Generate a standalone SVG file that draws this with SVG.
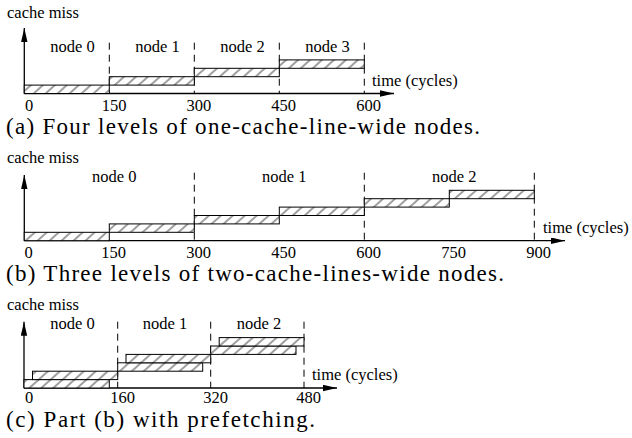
<svg xmlns="http://www.w3.org/2000/svg" width="632" height="438" viewBox="0 0 632 438" font-family="'Liberation Serif', 'DejaVu Serif', serif">
  <style>
    .bar { fill: url(#hatch); stroke: #000; stroke-width: 1; }
    .dash { stroke: #000; stroke-width: 1; stroke-dasharray: 7 5; fill: none; }
    .axis { stroke: #000; stroke-width: 1.3; fill: none; marker-end: url(#arrow); }
    .lbl { font-family: 'Liberation Serif', 'DejaVu Serif', serif; font-size: 16.5px; fill: #000; }
    .mid { text-anchor: middle; }
    .cap { font-family: 'Liberation Serif', 'DejaVu Serif', serif; font-size: 23px; fill: #000; }
  </style>
  <defs>
    <!-- diagonal hatch used by every cache-miss bar -->
    <pattern id="hatch" patternUnits="userSpaceOnUse" width="10" height="8" patternTransform="rotate(-42)">
      <rect width="10" height="8" fill="#fff"/>
      <line x1="0" y1="4" x2="10" y2="4" stroke="#000" stroke-width="0.75"/>
    </pattern>
    <!-- slim filled arrowhead for the axes -->
    <marker id="arrow" markerUnits="userSpaceOnUse" markerWidth="15" markerHeight="7" refX="14" refY="3.2" orient="auto">
      <path d="M0,0 L14,3.2 L0,6.4 Z" fill="#000"/>
    </marker>
  </defs>
  <rect width="632" height="438" fill="#fff"/>

  <!-- (a) four one-line nodes -->
  <g id="panel-a">
    <g id="a-connectors">
      <line class="axis" x1="24.3" y1="93.5" x2="24.3" y2="28"/>
      <line class="axis" x1="24.3" y1="93.5" x2="394" y2="93.5"/>
      <line class="dash" x1="109.3" y1="42.7" x2="109.3" y2="93.5"/>
      <line class="dash" x1="194.3" y1="42.7" x2="194.3" y2="93.5"/>
      <line class="dash" x1="279.3" y1="42.7" x2="279.3" y2="93.5"/>
      <line class="dash" x1="364.3" y1="42.7" x2="364.3" y2="93.5"/>
    </g>
    <g id="a-node0"><rect class="bar" x="24.3" y="85.1" width="85" height="8.4"/><text class="lbl mid" x="72.5" y="51.7">node 0</text></g>
    <g id="a-node1"><rect class="bar" x="109.3" y="76.7" width="85" height="8.4"/><text class="lbl mid" x="157.5" y="51.7">node 1</text></g>
    <g id="a-node2"><rect class="bar" x="194.3" y="68.3" width="85" height="8.4"/><text class="lbl mid" x="242.5" y="51.7">node 2</text></g>
    <g id="a-node3"><rect class="bar" x="279.3" y="59.9" width="85" height="8.4"/><text class="lbl mid" x="327.5" y="51.7">node 3</text></g>
    <text class="lbl" x="7" y="17.7">cache miss</text>
    <text class="lbl" x="372" y="85.5">time (cycles)</text>
    <g class="lbl mid">
      <text x="29" y="111">0</text>
      <text x="114" y="111">150</text>
      <text x="198.8" y="111">300</text>
      <text x="283.5" y="111">450</text>
      <text x="368.5" y="111">600</text>
    </g>
    <text class="cap" x="6" y="134" textLength="474" lengthAdjust="spacing">(a) Four levels of one-cache-line-wide nodes.</text>
  </g>

  <!-- (b) three two-line nodes -->
  <g id="panel-b">
    <g id="b-connectors">
      <line class="axis" x1="24.3" y1="240.7" x2="24.3" y2="175"/>
      <line class="axis" x1="24.3" y1="240.7" x2="565" y2="240.7"/>
      <line class="dash" x1="194.3" y1="172.7" x2="194.3" y2="240.7"/>
      <line class="dash" x1="364.3" y1="172.7" x2="364.3" y2="240.7"/>
      <line class="dash" x1="534.3" y1="172.7" x2="534.3" y2="240.7"/>
    </g>
    <g id="b-node0">
      <rect class="bar" x="24.3" y="232.3" width="85" height="8.4"/>
      <rect class="bar" x="109.3" y="223.9" width="85" height="8.4"/>
      <text class="lbl mid" x="114.3" y="181.7">node 0</text>
    </g>
    <g id="b-node1">
      <rect class="bar" x="194.3" y="215.5" width="85" height="8.4"/>
      <rect class="bar" x="279.3" y="207.1" width="85" height="8.4"/>
      <text class="lbl mid" x="284.3" y="181.7">node 1</text>
    </g>
    <g id="b-node2">
      <rect class="bar" x="364.3" y="198.7" width="85" height="8.4"/>
      <rect class="bar" x="449.3" y="190.3" width="85" height="8.4"/>
      <text class="lbl mid" x="454.3" y="181.7">node 2</text>
    </g>
    <text class="lbl" x="7" y="163.3">cache miss</text>
    <text class="lbl" x="543" y="232.5">time (cycles)</text>
    <g class="lbl mid">
      <text x="28.6" y="258.2">0</text>
      <text x="113.6" y="258.2">150</text>
      <text x="198.6" y="258.2">300</text>
      <text x="283.6" y="258.2">450</text>
      <text x="368.6" y="258.2">600</text>
      <text x="453.6" y="258.2">750</text>
      <text x="538.6" y="258.2">900</text>
    </g>
    <text class="cap" x="6" y="281.2" textLength="498" lengthAdjust="spacing">(b) Three levels of two-cache-lines-wide nodes.</text>
  </g>

  <!-- (c) part (b) with prefetching -->
  <g id="panel-c">
    <g id="c-connectors">
      <line class="axis" x1="24" y1="388" x2="24" y2="321.7"/>
      <line class="axis" x1="24" y1="388" x2="337" y2="388"/>
      <line class="dash" x1="117.7" y1="321.7" x2="117.7" y2="388"/>
      <line class="dash" x1="210.7" y1="321.7" x2="210.7" y2="388"/>
      <line class="dash" x1="304" y1="321.7" x2="304" y2="388"/>
    </g>
    <g id="c-node0">
      <rect class="bar" x="24" y="379.6" width="85.3" height="8.4"/>
      <rect class="bar" x="32.5" y="371.2" width="85.2" height="8.4"/>
      <text class="lbl mid" x="72.5" y="329">node 0</text>
    </g>
    <g id="c-node1">
      <rect class="bar" x="117.7" y="362.8" width="85" height="8.4"/>
      <rect class="bar" x="126" y="354.4" width="84.7" height="8.4"/>
      <text class="lbl mid" x="165" y="329">node 1</text>
    </g>
    <g id="c-node2">
      <rect class="bar" x="210.7" y="346" width="85.3" height="8.4"/>
      <rect class="bar" x="219.2" y="337.6" width="84.8" height="8.4"/>
      <text class="lbl mid" x="259" y="329">node 2</text>
    </g>
    <text class="lbl" x="7" y="310">cache miss</text>
    <text class="lbl" x="312" y="380">time (cycles)</text>
    <g class="lbl mid">
      <text x="29" y="403">0</text>
      <text x="122.5" y="403">160</text>
      <text x="215.5" y="403">320</text>
      <text x="308.5" y="403">480</text>
    </g>
    <text class="cap" x="6" y="427.2" textLength="309" lengthAdjust="spacing">(c) Part (b) with prefetching.</text>
  </g>
</svg>
